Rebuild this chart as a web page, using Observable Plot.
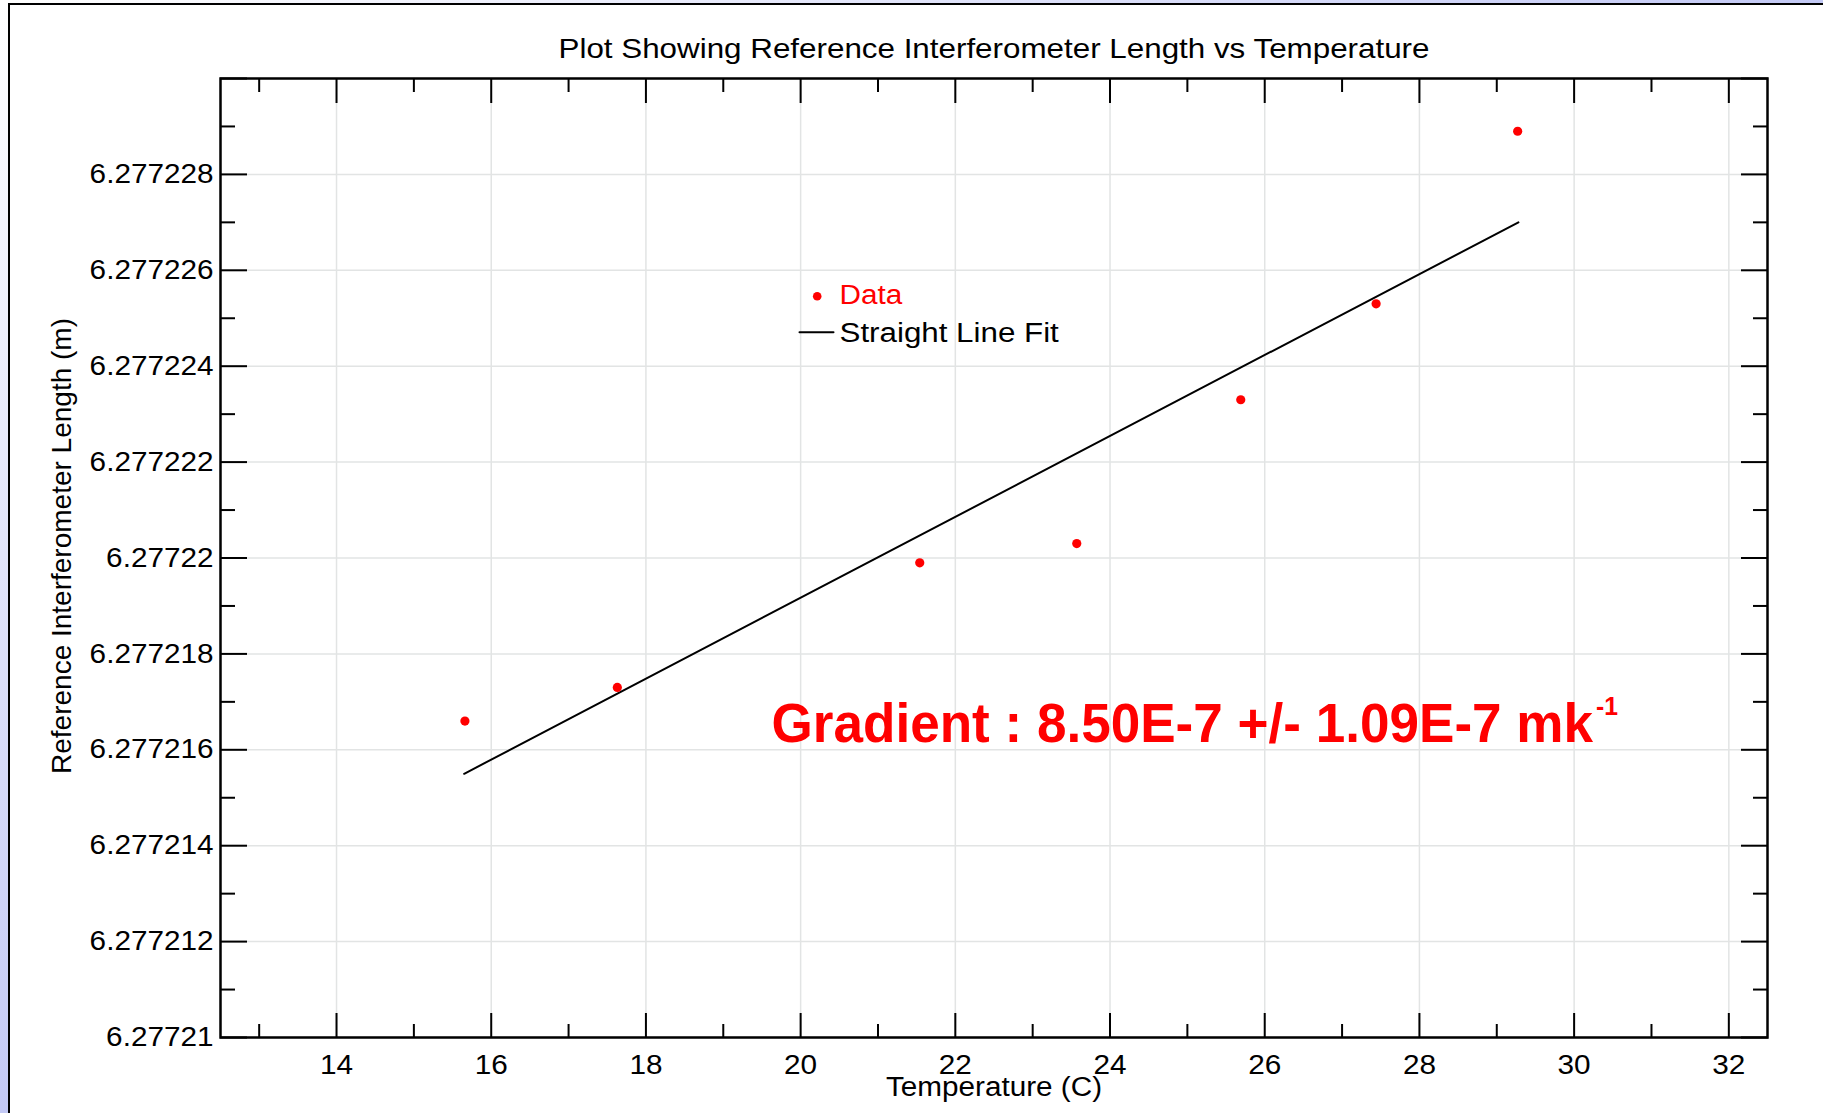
<!DOCTYPE html>
<html><head><meta charset="utf-8">
<script src="https://cdn.jsdelivr.net/npm/d3@7"></script>
<script src="https://cdn.jsdelivr.net/npm/@observablehq/plot@0.6"></script>
<style>
html,body{margin:0;padding:0;width:1823px;height:1113px;overflow:hidden;}
body{position:relative;background:linear-gradient(to bottom right,#ffffff 0%,#c3c9f5 50%,#8f9cec 100%);font-family:"Liberation Sans",Arial,sans-serif;}
#panel{position:absolute;left:8px;top:3px;right:0;bottom:0;background:#fff;border-left:2px solid #000;border-top:2px solid #000;}
#chart{position:absolute;left:0;top:0;}
</style></head><body><div id="panel"></div><div id="chart"></div>
<script>
// ---- data ----
const temperature = [15.66, 17.63, 21.54, 23.57, 25.69, 27.44, 29.27];
const refLength = [6.2772166, 6.2772173, 6.2772199, 6.2772203, 6.2772233, 6.2772253, 6.2772289];
const fitTemperature = [15.65, 29.28];
const fitLength = [6.2772155, 6.2772270];

const xTicks = [14, 16, 18, 20, 22, 24, 26, 28, 30, 32];
const xMinorTicks = [13, 15, 17, 19, 21, 23, 25, 27, 29, 31];
const xTickLabels = ["14", "16", "18", "20", "22", "24", "26", "28", "30", "32"];
const yTicks = [6.27721, 6.277212, 6.277214, 6.277216, 6.277218, 6.27722, 6.277222, 6.277224, 6.277226, 6.277228, 6.27723];
const yMinorTicks = [6.277211, 6.277213, 6.277215, 6.277217, 6.277219, 6.277221, 6.277223, 6.277225, 6.277227, 6.277229];
const yTickLabels = ["6.27721", "6.277212", "6.277214", "6.277216", "6.277218", "6.27722", "6.277222", "6.277224", "6.277226", "6.277228"];

const title = "Plot Showing Reference Interferometer Length vs Temperature";
const xLabel = "Temperature (C)";
const yLabel = "Reference Interferometer Length (m)";
const legendLabels = ["Data", "Straight Line Fit"];
const gradientText = "Gradient : 8.50E-7 +/- 1.09E-7 mk";
const gradientSup = "-1";

// ---- tables ----
const points = temperature.map((t, i) => ({t, L: refLength[i]}));
const fit = fitTemperature.map((t, i) => ({t, L: fitLength[i]}));
const xLabelMap = new Map(xTicks.map((v, i) => [v, xTickLabels[i]]));
const yLabelValues = yTickLabels.map(Number);
const yLabelMap = new Map(yLabelValues.map((v, i) => [v, yTickLabels[i]]));

const lineShape = {draw(context, l) { context.moveTo(0, 0); context.lineTo(0, -l); }};
const tickStyle = {label: null, fill: "none", stroke: "black", strokeWidth: 2};

const svg = Plot.plot({
  width: 1823, height: 1113,
  marginLeft: 220, marginTop: 78, marginRight: 56, marginBottom: 76,
  style: {background: "transparent", fontFamily: "'Liberation Sans', Arial, sans-serif", fontSize: "27px", color: "black", overflow: "visible"},
  x: {domain: [12.5, 32.5]},
  y: {domain: [6.27721, 6.27723]},
  marks: [
    Plot.gridX(xTicks, {stroke: "#e2e4e4", strokeOpacity: 1, strokeWidth: 1.5}),
    Plot.gridY(yTicks, {stroke: "#e2e4e4", strokeOpacity: 1, strokeWidth: 1.5}),
    // inward ticks on all four sides
    Plot.axisX({ticks: xTicks, anchor: "bottom", tickSize: -24, ...tickStyle}),
    Plot.axisX({ticks: xMinorTicks, anchor: "bottom", tickSize: -13, ...tickStyle}),
    Plot.axisX({ticks: xTicks, anchor: "top", tickSize: -24, ...tickStyle}),
    Plot.axisX({ticks: xMinorTicks, anchor: "top", tickSize: -13, ...tickStyle}),
    Plot.axisY({ticks: yTicks, anchor: "left", tickSize: -27, ...tickStyle}),
    Plot.axisY({ticks: yMinorTicks, anchor: "left", tickSize: -15, ...tickStyle}),
    Plot.axisY({ticks: yTicks, anchor: "right", tickSize: -27, ...tickStyle}),
    Plot.axisY({ticks: yMinorTicks, anchor: "right", tickSize: -15, ...tickStyle}),
    // tick labels
    Plot.axisX({ticks: xTicks, anchor: "bottom", tickSize: 0, tickPadding: 17, label: null, tickFormat: d => xLabelMap.get(d), fill: "black"}),
    Plot.axisY({ticks: yLabelValues, anchor: "left", tickSize: 0, tickPadding: 7, label: null, tickFormat: d => yLabelMap.get(d), fill: "black"}),
    Plot.frame({stroke: "black", strokeWidth: 2.5}),
    // fit line and data
    Plot.line(fit, {x: "t", y: "L", stroke: "black", strokeWidth: 2}),
    Plot.dot(points, {x: "t", y: "L", r: 4.6, fill: "red", stroke: "none"}),
    // legend
    Plot.dot([legendLabels[0]], {frameAnchor: "top-left", dx: 596.7, dy: 217.7, r: 4.3, fill: "red"}),
    Plot.text([legendLabels[0]], {text: d => d, frameAnchor: "top-left", dx: 619, dy: 217, textAnchor: "start", lineAnchor: "middle", fill: "red"}),
    Plot.vector([legendLabels[1]], {frameAnchor: "top-left", dx: 579, dy: 253.7, length: 34, rotate: 90, anchor: "start", shape: lineShape, stroke: "black", strokeWidth: 2}),
    Plot.text([legendLabels[1]], {text: d => d, frameAnchor: "top-left", dx: 619, dy: 254.5, textAnchor: "start", lineAnchor: "middle", fill: "black"}),
    // title and axis labels
    Plot.text([title], {text: d => d, frameAnchor: "top", dy: -29, lineAnchor: "middle", fontSize: 28, fill: "black"}),
    Plot.text([xLabel], {text: d => d, frameAnchor: "bottom", dy: 58, lineAnchor: "bottom", fill: "black"}),
    Plot.text([yLabel], {text: d => d, frameAnchor: "left", dx: -149.5, dy: -12, rotate: -90, lineAnchor: "bottom", textAnchor: "middle", fontSize: 28, fill: "black"}),
    // gradient annotation
    Plot.text([gradientText], {text: d => d, frameAnchor: "top-left", dx: 551, dy: 663, textAnchor: "start", lineAnchor: "bottom", fontSize: 55, fontWeight: "bold", fill: "red"})
  ]
});
document.getElementById("chart").appendChild(svg);

// horizontal width factors of the original chart's text
const widthFactor = new Map([
  [title, 1.12],
  [legendLabels[1], 1.16],
  [gradientText, 0.965]
]);
const NS = "http://www.w3.org/2000/svg";
svg.querySelectorAll("text").forEach(t => {
  const s = t.textContent;
  if (s === yLabel) return; // rotated label keeps its natural length
  const f = widthFactor.has(s) ? widthFactor.get(s) : 1.1;
  const w = t.getComputedTextLength();
  if (!(w > 0)) return;
  if (s === gradientText) {
    // main part and superscript "-1" in one text element
    t.textContent = "";
    const main = document.createElementNS(NS, "tspan");
    main.textContent = gradientText;
    main.setAttribute("textLength", (w * f).toFixed(1));
    main.setAttribute("lengthAdjust", "spacingAndGlyphs");
    const sup = document.createElementNS(NS, "tspan");
    sup.textContent = gradientSup;
    sup.setAttribute("dx", "3");
    sup.setAttribute("dy", "-27");
    sup.setAttribute("font-size", "26");
    sup.setAttribute("textLength", "22");
    sup.setAttribute("lengthAdjust", "spacingAndGlyphs");
    t.appendChild(main);
    t.appendChild(sup);
  } else {
    t.setAttribute("textLength", (w * f).toFixed(1));
    t.setAttribute("lengthAdjust", "spacingAndGlyphs");
  }
});
</script>
</body></html>
